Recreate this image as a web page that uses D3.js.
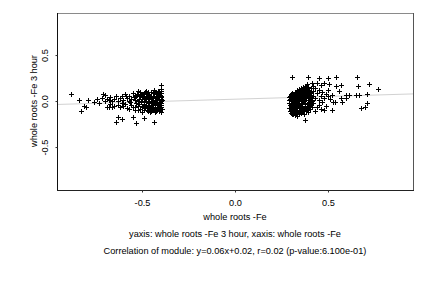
<!DOCTYPE html>
<html>
<head>
<meta charset="utf-8">
<script src="https://cdn.jsdelivr.net/npm/d3@7"></script>
<style>
body { margin: 0; background: #fff; }
text { font-family: "Liberation Sans", Arial, sans-serif; fill: #000; }
</style>
</head>
<body>
<div class="vis"></div>
<script>
// left cluster (x, y)
const leftCluster = [
  [-0.88,0.08],[-0.84,0.01],[-0.83,-0.11],[-0.81,-0.05],[-0.80,-0.06],[-0.79,0.01],[-0.76,-0.01],[-0.74,0.02],
  [-0.73,-0.02],[-0.715,0.03],[-0.70,0.07],[-0.71,0.08],[-0.69,-0.07],[-0.68,-0.07],[-0.66,-0.07],[-0.64,-0.23],
  [-0.627,-0.17],[-0.61,-0.19],[-0.57,-0.09],[-0.55,-0.17],[-0.53,-0.24],[-0.49,-0.185],[-0.435,-0.23],[-0.396,0.17],
  [-0.52,0.105],[-0.525,0.08],
  [-0.70,0.00],[-0.69,0.02],[-0.68,0.01],[-0.67,0.04],[-0.67,-0.03],[-0.66,0.00],[-0.65,0.02],[-0.65,-0.05],
  [-0.64,0.05],[-0.63,0.00],[-0.63,-0.04],[-0.62,0.03],[-0.62,-0.07],[-0.61,0.06],[-0.61,-0.02],[-0.60,0.01],
  [-0.60,-0.05],[-0.59,0.08],[-0.59,-0.03],[-0.58,0.03],[-0.58,-0.08],[-0.57,0.00],[-0.57,0.06],[-0.56,-0.04],
  [-0.56,0.02],[-0.55,0.09],[-0.55,-0.06],[-0.54,0.01],[-0.54,-0.10],[-0.53,0.05],[-0.53,-0.02],
  [-0.525,0.07],[-0.52,-0.05],[-0.515,0.02],[-0.51,-0.09],[-0.51,0.10],[-0.505,-0.01],[-0.50,0.04],[-0.50,-0.12],
  [-0.495,0.08],[-0.49,-0.03],[-0.49,0.00],[-0.485,-0.07],[-0.48,0.05],[-0.48,0.11],[-0.475,-0.10],[-0.47,0.02],
  [-0.47,-0.04],[-0.465,0.08],[-0.46,-0.08],[-0.46,0.00],[-0.455,0.04],[-0.455,-0.12],[-0.45,0.10],[-0.45,-0.02],
  [-0.445,-0.06],[-0.44,0.06],[-0.44,0.01],[-0.435,-0.09],[-0.435,0.12],[-0.43,-0.04],[-0.43,0.03],[-0.425,0.08],
  [-0.425,-0.11],[-0.42,-0.01],[-0.42,0.05],[-0.415,-0.07],[-0.415,0.11],[-0.41,0.02],[-0.41,-0.03],[-0.405,0.07],
  [-0.405,-0.10],[-0.40,0.00],[-0.40,0.04],[-0.40,-0.06],[-0.398,0.09],[-0.397,-0.02],[-0.396,0.13],[-0.396,-0.12],
  [-0.52,0.00],[-0.51,0.06],[-0.50,-0.07],[-0.49,0.09],[-0.48,-0.01],[-0.47,-0.11],[-0.46,0.07],[-0.45,-0.08],
  [-0.44,-0.03],[-0.43,0.10],[-0.42,-0.08],[-0.41,0.08],[-0.40,-0.09],[-0.47,0.06],[-0.46,-0.05],[-0.44,0.09],
  [-0.43,-0.12],[-0.42,0.02],[-0.41,-0.05],[-0.40,0.11],[-0.50,0.02],[-0.48,-0.05],[-0.46,0.03],[-0.45,0.06],
  [-0.44,-0.10],[-0.43,0.00],[-0.42,-0.04],[-0.41,-0.11],[-0.40,0.02],[-0.54,0.06],[-0.52,-0.10],[-0.49,-0.10],
  [-0.47,0.10],[-0.45,0.02],[-0.44,0.04],[-0.43,-0.07],[-0.42,0.09],[-0.41,-0.01],[-0.40,-0.04],[-0.398,0.05],
  [-0.396,-0.07],
  [-0.505,0.07],[-0.495,-0.05],[-0.485,0.03],[-0.475,0.08],[-0.465,-0.02],[-0.455,-0.09],[-0.445,0.03],[-0.435,0.06],
  [-0.425,-0.02],[-0.415,0.04],[-0.405,-0.04],[-0.395,0.01],[-0.49,0.05],[-0.47,-0.07],[-0.45,-0.11],[-0.43,-0.10],
  [-0.41,0.10],[-0.395,-0.09],[-0.515,-0.03],[-0.485,0.10],[-0.465,0.04],[-0.445,-0.01],[-0.425,0.01],[-0.405,0.09],
  [-0.535,-0.07],[-0.545,0.04],[-0.565,-0.01],[-0.585,0.05]
];

// right cluster (x, y)
const rightCluster = [
  [0.308,0.26],[0.394,0.26],[0.453,0.25],[0.50,0.25],[0.545,0.26],[0.657,0.26],[0.72,0.185],[0.77,0.127],
  [0.66,0.16],[0.57,0.17],[0.545,0.16],[0.507,0.19],[0.48,0.20],[0.415,0.20],[0.44,0.20],[0.464,0.17],
  [0.557,0.11],[0.597,0.07],[0.613,0.07],[0.65,0.07],[0.665,0.07],[0.708,0.08],[0.71,-0.02],[0.70,-0.06],
  [0.676,-0.075],[0.57,0.03],[0.597,0.035],[0.574,-0.01],[0.525,-0.007],[0.535,-0.007],[0.52,-0.10],[0.48,-0.10],
  [0.376,-0.207],[0.33,-0.134],[0.306,-0.145],
  [0.43,0.14],[0.45,0.12],[0.47,0.10],[0.49,0.08],[0.50,0.05],[0.46,0.06],[0.44,0.09],[0.48,0.03],
  [0.51,0.02],[0.47,-0.01],[0.45,-0.04],[0.49,-0.05],[0.44,-0.07],[0.46,-0.09],[0.43,0.03],[0.50,0.12],
  [0.42,0.16],[0.43,-0.11],[0.45,0.01],[0.52,0.07],
  [0.300,0.05],[0.300,0.00],[0.300,-0.05],[0.302,-0.09],[0.303,0.03],[0.305,-0.02],[0.306,0.07],[0.308,-0.11],
  [0.31,0.01],[0.31,-0.06],[0.312,0.04],[0.315,-0.03],[0.315,0.08],[0.318,-0.09],[0.32,0.00],[0.32,0.05],
  [0.322,-0.12],[0.325,-0.05],[0.325,0.10],[0.328,0.02],[0.33,-0.08],[0.33,0.06],[0.332,-0.02],[0.335,0.12],
  [0.335,-0.11],[0.338,0.03],[0.34,-0.04],[0.34,0.08],[0.342,-0.14],[0.345,0.00],[0.345,0.13],[0.348,-0.07],
  [0.35,0.05],[0.35,-0.10],[0.352,0.10],[0.355,-0.02],[0.355,0.14],[0.358,0.02],[0.36,-0.06],[0.36,0.07],
  [0.362,-0.12],[0.365,0.15],[0.365,-0.01],[0.368,0.04],[0.37,-0.09],[0.37,0.11],[0.372,0.00],[0.375,-0.05],
  [0.375,0.16],[0.378,0.08],[0.38,-0.11],[0.38,0.03],[0.382,0.13],[0.385,-0.03],[0.385,0.18],[0.388,0.06],
  [0.39,-0.08],[0.39,0.10],[0.392,0.01],[0.395,0.15],[0.395,-0.05],[0.398,0.08],[0.40,-0.01],[0.40,0.12],
  [0.402,-0.09],[0.405,0.04],[0.408,0.14],[0.41,-0.04],[0.41,0.09],[0.413,0.01],[0.415,-0.07],[0.418,0.11],
  [0.42,0.05],[0.42,-0.02],[0.30,0.02],[0.305,-0.07],[0.31,0.06],[0.315,-0.12],[0.32,-0.02],[0.325,0.03],
  [0.33,0.09],[0.335,-0.06],[0.34,0.01],[0.345,-0.10],[0.35,0.11],[0.355,0.04],[0.36,-0.03],[0.365,0.09],
  [0.37,0.02],[0.375,-0.08],[0.38,0.06],[0.385,0.12],[0.39,-0.02],[0.395,0.03],[0.40,-0.06],[0.405,0.10],
  [0.41,0.06],[0.415,0.00],[0.32,-0.15],[0.335,-0.16],[0.355,-0.13],[0.37,-0.14],[0.39,-0.12],[0.31,-0.14],
  [0.325,0.07],[0.345,0.06],[0.36,0.12],[0.38,0.15],[0.30,0.08],
  [0.29,0.04],[0.29,-0.02],[0.29,-0.08],[0.292,0.01],[0.295,-0.11],[0.296,0.06],[0.298,-0.04],[0.303,-0.13],
  [0.307,0.09],[0.313,-0.08],[0.317,0.02],[0.323,-0.09],[0.327,-0.01],[0.333,0.04],[0.337,0.10],[0.343,-0.02],
  [0.347,0.03],[0.353,-0.05],[0.357,0.08],[0.363,0.01],[0.367,-0.08],[0.373,0.05],[0.377,-0.02],[0.383,0.09],
  [0.387,-0.06],[0.393,0.05],[0.397,-0.01],[0.403,0.07],[0.407,-0.03],[0.312,-0.01],[0.328,-0.07],[0.342,0.11],
  [0.358,-0.09],[0.372,0.13],[0.388,-0.10],[0.402,0.02],[0.297,0.02],[0.318,0.06],[0.352,-0.12],[0.368,-0.11]
];

const xTicks = [-0.5, 0.0, 0.5];
const yTicks = [-0.5, 0.0, 0.5];
const fitSlope = 0.06, fitIntercept = 0.02;

const xTitle = "whole roots -Fe";
const yTitle = "whole roots -Fe 3 hour";
const subTitle = "yaxis: whole roots -Fe 3 hour, xaxis: whole roots -Fe";
const corrTitle = "Correlation of module: y=0.06x+0.02, r=0.02 (p-value:6.100e-01)";

const W = 432, H = 288;
const plot = { left: 57, right: 413, top: 13, bottom: 190 };
const fontSize = "9.2px";

const svg = d3.select(".vis").append("svg")
    .attr("width", W)
    .attr("height", H);

const x = d3.scaleLinear().domain([-0.957, 0.957]).range([plot.left, plot.right]);
const y = d3.scaleLinear().domain([-0.967, 0.957]).range([plot.bottom, plot.top]);

// regression line
svg.append("line")
    .attr("x1", plot.left).attr("x2", plot.right)
    .attr("y1", y(fitSlope * x.domain()[0] + fitIntercept))
    .attr("y2", y(fitSlope * x.domain()[1] + fitIntercept))
    .attr("stroke", "#d2d2d2")
    .attr("stroke-width", 1);

// points as "+"
const pts = leftCluster.concat(rightCluster);
svg.append("g")
    .selectAll("path")
    .data(pts)
    .join("path")
    .attr("transform", d => "translate(" + (Math.round(x(d[0])) + 0.5) + "," + (Math.round(y(d[1])) + 0.5) + ")")
    .attr("d", "M-2.5,0H2.5M0,-2.5V2.5")
    .attr("stroke", "#000")
    .attr("stroke-width", 1)
    .attr("fill", "none");

// frame
svg.append("line").attr("x1", plot.left).attr("x2", plot.right).attr("y1", plot.top + 0.5).attr("y2", plot.top + 0.5)
    .attr("stroke", "#8a8a8a");
svg.append("line").attr("x1", plot.right + 0.5).attr("x2", plot.right + 0.5).attr("y1", plot.top).attr("y2", plot.bottom)
    .attr("stroke", "#555");
svg.append("line").attr("x1", plot.left + 0.5).attr("x2", plot.left + 0.5).attr("y1", plot.top).attr("y2", plot.bottom + 1)
    .attr("stroke", "#111");
svg.append("line").attr("x1", plot.left).attr("x2", plot.right + 1).attr("y1", plot.bottom + 0.5).attr("y2", plot.bottom + 0.5)
    .attr("stroke", "#222");

// x axis
const xAxis = svg.append("g")
    .attr("transform", "translate(0," + (plot.bottom + 0.5) + ")")
    .call(d3.axisBottom(x).tickValues(xTicks).tickSize(2).tickSizeOuter(0).tickFormat(d => d.toFixed(1)));
xAxis.select(".domain").remove();
xAxis.selectAll("line").attr("stroke", "#333");
xAxis.selectAll("text")
    .attr("y", 12.5)
    .attr("dy", "0.32em")
    .attr("fill", "#000")
    .style("font-size", fontSize)
    .style("font-family", "'Liberation Sans', Arial, sans-serif");

// y axis
const yAxis = svg.append("g")
    .attr("transform", "translate(" + (plot.left + 0.5) + ",0)")
    .call(d3.axisLeft(y).tickValues(yTicks).tickSize(2).tickSizeOuter(0).tickFormat(d => d.toFixed(1)));
yAxis.select(".domain").remove();
yAxis.selectAll("line").attr("stroke", "#333");
yAxis.selectAll("text")
    .attr("x", 0).attr("dy", 0)
    .attr("text-anchor", "middle")
    .attr("transform", "translate(-10,0) rotate(-90)")
    .attr("fill", "#000")
    .style("font-size", fontSize)
    .style("font-family", "'Liberation Sans', Arial, sans-serif");

// titles
svg.append("text")
    .attr("x", x(0)).attr("y", 219.5)
    .attr("text-anchor", "middle")
    .style("font-size", fontSize)
    .text(xTitle);

svg.append("text")
    .attr("transform", "translate(36.5," + y(0) + ") rotate(-90)")
    .attr("text-anchor", "middle")
    .style("font-size", fontSize)
    .text(yTitle);

svg.append("text")
    .attr("x", x(0)).attr("y", 236.5)
    .attr("text-anchor", "middle")
    .style("font-size", fontSize)
    .text(subTitle);

svg.append("text")
    .attr("x", x(0)).attr("y", 253.5)
    .attr("text-anchor", "middle")
    .style("font-size", fontSize)
    .text(corrTitle);
</script>
</body>
</html>
